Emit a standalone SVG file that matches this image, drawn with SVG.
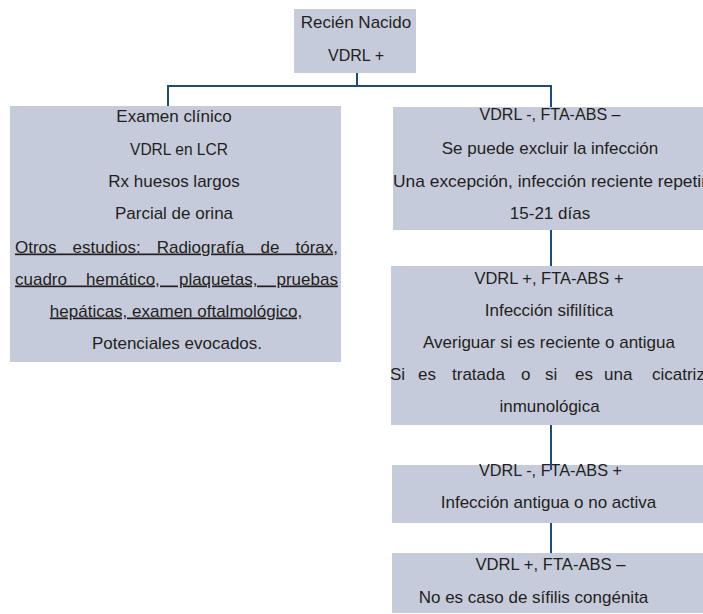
<svg xmlns="http://www.w3.org/2000/svg" width="703" height="614" viewBox="0 0 703 614">
<style>
.box{fill:#c6cbdb;}
.t{font-family:"Liberation Sans",Arial,sans-serif;font-size:17px;fill:#231f20;}
.c{text-anchor:middle;}
.u{text-decoration:underline;}
.conn{fill:none;stroke:#1f4a7c;stroke-width:2;}
</style>
<rect width="703" height="614" fill="#ffffff"/>
<g id="n_root">
<rect class="box" x="294" y="9" width="122" height="64"/>
<text class="t c" x="356" y="28">Recién Nacido</text>
<text class="t c" x="356" y="61" textLength="56" lengthAdjust="spacingAndGlyphs">VDRL +</text>
</g>
<g id="n_left">
<rect class="box" x="10" y="106" width="331" height="256"/>
<text class="t c" x="174" y="122">Examen clínico</text>
<text class="t c" x="179" y="154.5" textLength="98" lengthAdjust="spacingAndGlyphs">VDRL en LCR</text>
<text class="t c" x="174" y="187">Rx huesos largos</text>
<text class="t c" x="174" y="219">Parcial de orina</text>
<text class="t u" x="15" y="252.5" word-spacing="11.3">Otros estudios: Radiografía de tórax,</text>
<text class="t u" x="15" y="284.5" word-spacing="14.4">cuadro hemático, plaquetas, pruebas</text>
<text class="t c u" x="176" y="316.5">hepáticas, examen oftalmológico,</text>
<text class="t c" x="177" y="348.5">Potenciales evocados.</text>
</g>
<g id="n_r1">
<rect class="box" x="393" y="107" width="316" height="123"/>
<text class="t c" x="550" y="120" textLength="141" lengthAdjust="spacingAndGlyphs">VDRL -, FTA-ABS –</text>
<text class="t c" x="550" y="153.5">Se puede excluir la infección</text>
<text class="t c" x="550" y="186.5" textLength="314" lengthAdjust="spacingAndGlyphs">Una excepción, infección reciente repetir</text>
<text class="t c" x="550" y="218.5">15-21 días</text>
</g>
<g id="n_r2">
<rect class="box" x="391" y="266" width="320" height="159"/>
<text class="t c" x="549" y="284" textLength="149" lengthAdjust="spacingAndGlyphs">VDRL +, FTA-ABS +</text>
<text class="t c" x="549" y="316">Infección sifilítica</text>
<text class="t c" x="549" y="348">Averiguar si es reciente o antigua</text>
<text class="t" y="379.5"><tspan x="390">Si</tspan><tspan x="418">es</tspan><tspan x="452">tratada</tspan><tspan x="521">o</tspan><tspan x="545">si</tspan><tspan x="575">es</tspan><tspan x="604">una</tspan><tspan x="652">cicatriz</tspan></text>
<text class="t c" x="549.5" y="411.5">inmunológica</text>
</g>
<g id="n_r3">
<rect class="box" x="392" y="465" width="318" height="58"/>
<text class="t c" x="550.5" y="476" textLength="143" lengthAdjust="spacingAndGlyphs">VDRL -, FTA-ABS +</text>
<text class="t c" x="548.5" y="507.5">Infección antigua o no activa</text>
</g>
<g id="n_r4">
<rect class="box" x="392" y="553" width="318" height="60"/>
<text class="t c" x="550.5" y="569.5" textLength="150" lengthAdjust="spacingAndGlyphs">VDRL +, FTA-ABS –</text>
<text class="t c" x="533.5" y="602.5">No es caso de sífilis congénita</text>
</g>
<g id="connectors">
<path class="conn" d="M357,73 V86"/>
<path class="conn" d="M168,106 V86 H551 V107"/>
<path class="conn" d="M551,230 V266"/>
<path class="conn" d="M551,425 V470"/>
<path class="conn" d="M551,523 V553"/>
</g>
</svg>
